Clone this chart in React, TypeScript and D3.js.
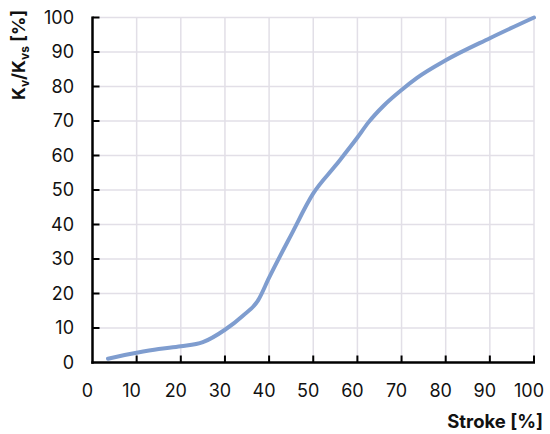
import React from "react";
import * as d3 from "d3";

const strokeValues = [3.5, 10, 15, 20, 25, 30, 34, 37.5, 40, 45, 50, 55, 60, 62.5, 66, 70, 73.5, 80, 90, 100];
const kvValues = [1.1, 2.8, 3.9, 4.7, 5.9, 9.5, 13.5, 18, 24.6, 37, 49, 57, 65.2, 69.6, 74.5, 79, 82.5, 87.6, 94, 100];
const xTicks = [0, 10, 20, 30, 40, 50, 60, 70, 80, 90, 100];
const yTicks = [0, 10, 20, 30, 40, 50, 60, 70, 80, 90, 100];

const W = 550;
const H = 434;
const FONT = "Inter, 'Noto Sans', sans-serif";

export default function App() {
  const x = d3.scaleLinear().domain([0, 100]).range([92.5, 534]);
  const y = d3.scaleLinear().domain([0, 100]).range([362.5, 17.5]);
  const pts: [number, number][] = strokeValues.map((s, i) => [s, kvValues[i]]);
  const line = d3
    .line<[number, number]>()
    .x((d) => x(d[0]))
    .y((d) => y(d[1]))
    .curve(d3.curveMonotoneX);

  return (
    <svg
      width={W}
      height={H}
      style={{ position: "absolute", left: 0, top: 0, background: "#fff" }}
      fontFamily={FONT}
    >
      <rect x={0} y={0} width={W} height={H} fill="#fff" />
      {xTicks.slice(1).map((t) => (
        <line key={"gx" + t} x1={x(t)} x2={x(t)} y1={y(0)} y2={y(100)} stroke="#e2dfe7" strokeWidth={1.5} />
      ))}
      {yTicks.slice(1).map((t) => (
        <line key={"gy" + t} x1={x(0)} x2={x(100)} y1={y(t)} y2={y(t)} stroke="#e2dfe7" strokeWidth={1.5} />
      ))}
      <path d={line(pts) || ""} fill="none" stroke="#7f9dcf" strokeWidth={4} strokeLinecap="round" strokeLinejoin="round" />
      {/* axes */}
      <line x1={x(0)} x2={x(0)} y1={y(100) - 1} y2={y(0) + 1.2} stroke="#000" strokeWidth={2.5} />
      <line x1={x(0) - 1.2} x2={x(100) + 1} y1={y(0)} y2={y(0)} stroke="#000" strokeWidth={2.5} />
      {xTicks.slice(1).map((t) => (
        <line key={"tx" + t} x1={x(t)} x2={x(t)} y1={y(0)} y2={y(0) - 7} stroke="#000" strokeWidth={2} />
      ))}
      {yTicks.slice(1).map((t) => (
        <line key={"ty" + t} x1={x(0)} x2={x(0) + 7} y1={y(t)} y2={y(t)} stroke="#000" strokeWidth={2} />
      ))}
      {xTicks.map((t) => (
        <text key={"lx" + t} x={x(t) - 5} y={396.5} textAnchor="middle" fontSize={18} fill="#111">
          {t}
        </text>
      ))}
      {yTicks.map((t) => (
        <text key={"ly" + t} x={74} y={y(t)} dy="0.36em" textAnchor="end" fontSize={18} fill="#111">
          {t}
        </text>
      ))}
      <text x={543} y={428} textAnchor="end" fontSize={18.5} fontWeight="bold" fill="#111">
        Stroke [%]
      </text>
      <text transform="translate(25,55) rotate(-90)" textAnchor="middle" fontSize={18} fontWeight="bold" fill="#111">
        K<tspan fontSize={12} dy={4}>v</tspan>
        <tspan dy={-4}>/K</tspan>
        <tspan fontSize={12} dy={4}>vs</tspan>
        <tspan dy={-4}> [%]</tspan>
      </text>
    </svg>
  );
}
